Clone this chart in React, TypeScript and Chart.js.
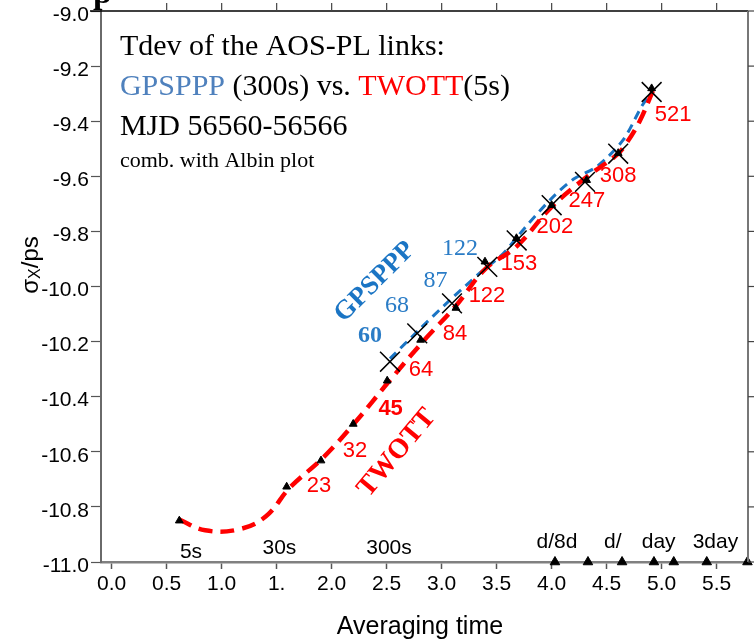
import React, { useEffect, useRef } from "react";
import { Chart, registerables } from "chart.js";

Chart.register(...registerables);

// ---------- axis ticks ----------
const xTickValues = [0, 0.5, 1, 1.5, 2, 2.5, 3, 3.5, 4, 4.5, 5, 5.5];
const xTickLabels = ["0.0", "0.5", "1.0", "1.", "2.0", "2.5", "3.0", "3.5", "4.0", "4.5", "5.0", "5.5"];
const yTickValues = [-11, -10.8, -10.6, -10.4, -10.2, -10, -9.8, -9.6, -9.4, -9.2, -9];
const yTickLabels = ["-11.0", "-10.8", "-10.6", "-10.4", "-10.2", "-10.0", "-9.8", "-9.6", "-9.4", "-9.2", "-9.0"];

// ---------- TWOTT (red dashed curve) ----------
const twottLineX = [0.61, 0.85, 1.15, 1.4, 1.62, 1.92, 2.22, 2.52, 2.83, 3.13, 3.4, 3.68, 4.0, 4.32, 4.59, 4.68, 4.8, 4.92];
const twottLineY = [-10.845, -10.885, -10.882, -10.835, -10.73, -10.622, -10.49, -10.345, -10.2, -10.07, -9.935, -9.855, -9.711, -9.602, -9.523, -9.48, -9.4, -9.29];

// TWOTT triangle markers
const twottMarkX = [0.615, 1.591, 1.903, 2.196, 2.505, 2.809, 3.13, 3.394, 3.68, 4.0, 4.318, 4.605, 4.909];
const twottMarkY = [-10.85, -10.727, -10.632, -10.499, -10.342, -10.194, -10.078, -9.91, -9.825, -9.705, -9.614, -9.516, -9.281];

// ---------- GPSPPP (blue dashed curve) ----------
const gpsLineX = [2.53, 2.8, 3.06, 3.35, 3.56, 3.75, 4.0, 4.2, 4.41, 4.65, 4.82, 4.9];
const gpsLineY = [-10.262, -10.155, -10.055, -9.95, -9.88, -9.79, -9.68, -9.61, -9.565, -9.468, -9.345, -9.3];

// GPSPPP cross markers
const gpsMarkX = [2.53, 2.778, 3.094, 3.415, 3.682, 4.0, 4.303, 4.605, 4.909];
const gpsMarkY = [-10.273, -10.17, -10.061, -9.929, -9.833, -9.705, -9.62, -9.518, -9.294];

// triangles sitting on the time axis
const axisMarkX = [4.03, 4.33, 4.64, 4.93, 5.11, 5.41, 5.78];
const axisMarkY = [-11, -11, -11, -11, -11, -11, -11];

// ---------- annotation texts (data coordinates) ----------
const twottLabels = ["23", "32", "45", "64", "84", "122", "153", "202", "247", "308", "521"];
const twottLabelX = [1.885, 2.212, 2.536, 2.812, 3.121, 3.412, 3.703, 4.03, 4.321, 4.605, 5.105];
const twottLabelY = [-10.728, -10.601, -10.448, -10.307, -10.176, -10.037, -9.921, -9.786, -9.694, -9.603, -9.38];
const twottLabelBold = [false, false, true, false, false, false, false, false, false, false, false];

const gpsLabels = ["60", "68", "87", "122"];
const gpsLabelX = [2.348, 2.594, 2.944, 3.166];
const gpsLabelY = [-10.18, -10.071, -9.98, -9.861];
const gpsLabelBold = [true, false, false, false];

const timeLabels = ["5s", "30s", "300s", "d/8d", "d/", "day", "3day"];
const timeLabelX = [0.721, 1.525, 2.521, 4.048, 4.555, 4.973, 5.489];
const timeLabelY = [-10.985, -10.971, -10.971, -10.948, -10.948, -10.948, -10.948];

const noteLines = ["Tdev of the AOS-PL links:", "MJD 56560-56566", "comb. with Albin plot"];
const noteX = 0.075;
const noteY = [-9.158, -9.451, -9.566];
const compareLineY = -9.306;
const compareParts = ["GPSPPP", " (300s) vs. ", "TWOTT", "(5s)"];

const SANS = "'Liberation Sans', Arial, sans-serif";
const SERIF = "'Liberation Serif', 'Times New Roman', serif";
const RED = "#ff0000";
const BLUE = "#1b75c4";
const BLUE_LABEL = "#2a7cc6";
const BLUE_LEGEND = "#4f81bd";

const pts = (xs: number[], ys: number[]) => xs.map((x, i) => ({ x, y: ys[i] }));

const decorPlugin = {
  id: "decor",
  afterDraw(chart: any) {
    const ctx = chart.ctx as CanvasRenderingContext2D;
    const xs = chart.scales.x;
    const ys = chart.scales.y;
    const ca = chart.chartArea;
    const px = (v: number) => xs.getPixelForValue(v);
    const py = (v: number) => ys.getPixelForValue(v);

    ctx.save();
    // top border + top ticks
    ctx.strokeStyle = "#000";
    ctx.lineWidth = 1.5;
    ctx.beginPath();
    ctx.moveTo(ca.left - 11, ca.top);
    ctx.lineTo(ca.right, ca.top);
    ctx.stroke();
    ctx.strokeStyle = "#444";
    ctx.lineWidth = 1.2;
    xTickValues.forEach((v) => {
      if (v === 0) return;
      const x = px(v);
      ctx.beginPath();
      ctx.moveTo(x, ca.top);
      ctx.lineTo(x, ca.top - 8);
      ctx.stroke();
    });
    // right border + ticks
    ctx.strokeStyle = "#777";
    ctx.lineWidth = 2;
    ctx.beginPath();
    ctx.moveTo(ca.right, ca.top);
    ctx.lineTo(ca.right, ca.bottom);
    ctx.stroke();
    ctx.lineWidth = 1.2;
    ctx.strokeStyle = "#444";
    yTickValues.forEach((v) => {
      const y = py(v);
      ctx.beginPath();
      ctx.moveTo(ca.right, y);
      ctx.lineTo(ca.right + 6, y);
      ctx.stroke();
    });

    // y tick labels (sit a little below their ticks, as in the source)
    ctx.fillStyle = "#000";
    ctx.font = `21px ${SANS}`;
    ctx.textAlign = "right";
    ctx.textBaseline = "middle";
    yTickValues.forEach((v, i) => {
      ctx.fillText(yTickLabels[i], ca.left - 12, py(v) + 4);
    });

    // cut-off glyph of an upper title
    ctx.fillStyle = "#000";
    ctx.font = `bold 34px ${SERIF}`;
    ctx.textAlign = "left";
    ctx.textBaseline = "alphabetic";
    ctx.fillText("p", 93, 3);

    // notes block
    ctx.textAlign = "left";
    ctx.textBaseline = "alphabetic";
    ctx.fillStyle = "#000";
    ctx.font = `30px ${SERIF}`;
    ctx.fillText(noteLines[0], px(noteX), py(noteY[0]));
    ctx.fillText(noteLines[1], px(noteX), py(noteY[1]));
    let cx = px(noteX);
    const partColors = [BLUE_LEGEND, "#000", RED, "#000"];
    compareParts.forEach((p, i) => {
      ctx.fillStyle = partColors[i];
      ctx.fillText(p, cx, py(compareLineY));
      cx += ctx.measureText(p).width;
    });
    ctx.fillStyle = "#000";
    ctx.font = `22px ${SERIF}`;
    ctx.fillText(noteLines[2], px(noteX), py(noteY[2]));

    // red labels
    ctx.textAlign = "center";
    ctx.textBaseline = "middle";
    ctx.fillStyle = RED;
    twottLabels.forEach((t, i) => {
      ctx.font = `${twottLabelBold[i] ? "bold " : ""}22px ${SANS}`;
      ctx.fillText(t, px(twottLabelX[i]), py(twottLabelY[i]) - 1);
    });
    // blue labels
    ctx.fillStyle = BLUE_LABEL;
    gpsLabels.forEach((t, i) => {
      ctx.font = `${gpsLabelBold[i] ? "bold " : ""}24px ${SERIF}`;
      ctx.fillText(t, px(gpsLabelX[i]), py(gpsLabelY[i]));
    });
    // time labels
    ctx.fillStyle = "#000";
    ctx.textBaseline = "alphabetic";
    ctx.font = `21px ${SANS}`;
    timeLabels.forEach((t, i) => {
      ctx.fillText(t, px(timeLabelX[i]), py(timeLabelY[i]));
    });

    // rotated series names
    ctx.save();
    ctx.translate(375, 282);
    ctx.rotate((-45 * Math.PI) / 180);
    ctx.fillStyle = BLUE;
    ctx.font = `bold 27px ${SERIF}`;
    ctx.textBaseline = "middle";
    ctx.fillText("GPSPPP", 0, 0);
    ctx.restore();

    ctx.save();
    ctx.translate(397, 453);
    ctx.rotate((-50 * Math.PI) / 180);
    ctx.fillStyle = RED;
    ctx.font = `bold 28px ${SERIF}`;
    ctx.textBaseline = "middle";
    ctx.fillText("TWOTT", 0, 0);
    ctx.restore();

    // x title
    ctx.fillStyle = "#000";
    ctx.font = `25px ${SANS}`;
    ctx.textAlign = "center";
    ctx.textBaseline = "middle";
    ctx.fillText("Averaging time", 420, 627);

    // y title  σ_X/ps
    ctx.save();
    ctx.translate(31, 265);
    ctx.rotate(-Math.PI / 2);
    ctx.textAlign = "left";
    ctx.textBaseline = "middle";
    ctx.font = `24px ${SANS}`;
    const w1 = ctx.measureText("σ").width;
    const w3 = ctx.measureText("/ps").width;
    ctx.font = `16px ${SANS}`;
    const w2 = ctx.measureText("X").width;
    let sx = -(w1 + w2 + w3) / 2;
    ctx.font = `24px ${SANS}`;
    ctx.fillText("σ", sx, 0);
    sx += w1;
    ctx.font = `16px ${SANS}`;
    ctx.fillText("X", sx, 5);
    sx += w2;
    ctx.font = `24px ${SANS}`;
    ctx.fillText("/ps", sx, 0);
    ctx.restore();

    ctx.restore();
  },
};

export default function App() {
  const ref = useRef<HTMLCanvasElement | null>(null);

  useEffect(() => {
    if (!ref.current) return;
    const chart = new Chart(ref.current, {
      type: "line",
      data: {
        datasets: [
          {
            label: "GPSPPP marks",
            data: pts(gpsMarkX, gpsMarkY),
            showLine: false,
            pointStyle: "crossRot",
            pointRadius: 14,
            borderColor: "#000",
            borderWidth: 1.5,
            order: 0,
          },
          {
            label: "TWOTT marks",
            data: pts(twottMarkX, twottMarkY),
            showLine: false,
            pointStyle: "triangle",
            pointRadius: 4.5,
            backgroundColor: "#000",
            borderColor: "#000",
            borderWidth: 1,
            order: 1,
          },
          {
            label: "axis marks",
            data: pts(axisMarkX, axisMarkY),
            showLine: false,
            pointStyle: "triangle",
            pointRadius: 5.5,
            backgroundColor: "#000",
            borderColor: "#000",
            borderWidth: 1,
            clip: false as any,
            order: 1,
          },
          {
            label: "TWOTT",
            data: pts(twottLineX, twottLineY),
            borderColor: RED,
            borderWidth: 4.5,
            borderDash: [14, 8],
            pointRadius: 0,
            tension: 0.4,
            fill: false,
            order: 2,
          },
          {
            label: "GPSPPP",
            data: pts(gpsLineX, gpsLineY),
            borderColor: BLUE,
            borderWidth: 3,
            borderDash: [9, 6],
            pointRadius: 0,
            tension: 0.3,
            fill: false,
            order: 3,
          },
        ],
      },
      options: {
        responsive: false,
        animation: false,
        layout: { autoPadding: false, padding: { left: 0, right: 7, top: 11, bottom: 0 } },
        plugins: { legend: { display: false }, tooltip: { enabled: false } },
        scales: {
          x: {
            type: "linear",
            min: -0.097,
            max: 5.785,
            afterBuildTicks: (s: any) => {
              s.ticks = xTickValues.map((value) => ({ value }));
            },
            afterFit: (s: any) => {
              s.height = 80;
            },
            ticks: {
              autoSkip: false,
              maxRotation: 0,
              padding: 3,
              color: "#000",
              font: { family: SANS, size: 21 },
              callback: (_v: any, i: number) => xTickLabels[i],
            },
            grid: { display: true, drawOnChartArea: false, drawTicks: true, tickLength: 7, color: "#555", tickWidth: 1.5 },
            border: { display: true, color: "#808080", width: 2.5 },
          },
          y: {
            type: "linear",
            min: -11,
            max: -9,
            afterBuildTicks: (s: any) => {
              s.ticks = yTickValues.map((value) => ({ value }));
            },
            afterFit: (s: any) => {
              s.width = 101;
            },
            ticks: {
              display: false,
              autoSkip: false,
            },
            grid: { display: true, drawOnChartArea: false, drawTicks: true, tickLength: 10, color: "#555", tickWidth: 1.2 },
            border: { display: true, color: "#6a6a6a", width: 2 },
          },
        },
      },
      plugins: [decorPlugin],
    } as any);
    return () => chart.destroy();
  }, []);

  return (
    <div style={{ position: "absolute", left: 0, top: 0, width: 755, height: 642, background: "#fff" }}>
      <canvas ref={ref} width={755} height={642} />
    </div>
  );
}
